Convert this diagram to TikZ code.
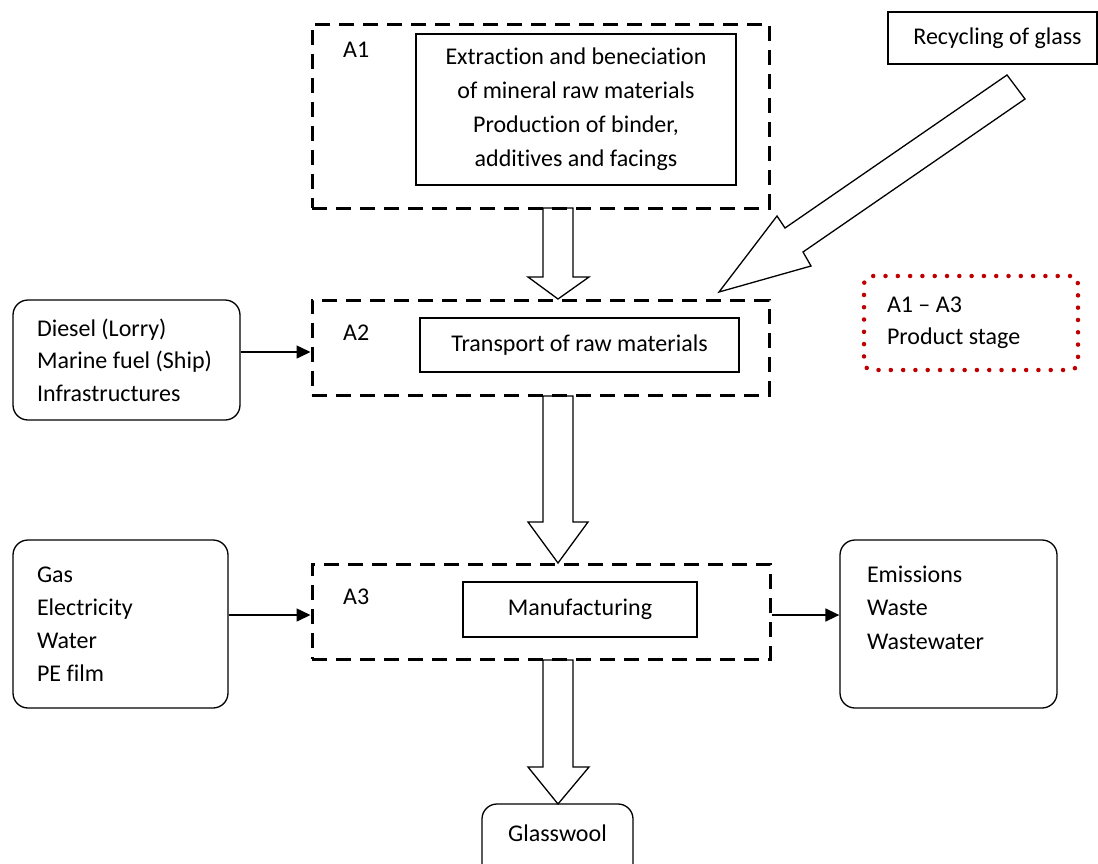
\documentclass[tikz,border=0pt]{standalone}
\usepackage{fontspec}
\setmainfont{Carlito}[Ligatures=NoCommon]
\usetikzlibrary{arrows.meta,calc}
\definecolor{dred}{RGB}{192,0,0}
\begin{document}
\begin{tikzpicture}[x=1pt,y=-1pt,
  every node/.style={font=\fontsize{24}{33}\selectfont},
  dashbox/.style={draw,line width=3pt,dash pattern=on 15pt off 9pt,inner sep=0pt},
  solidbox/.style={draw,line width=1.3pt,inner sep=0pt,align=flush center},
  roundbox/.style={draw,line width=1.3pt,rounded corners=15pt,align=flush left,inner sep=0pt},
  lbl/.style={anchor=west,inner sep=0pt},
  conn/.style={line width=1.5pt,-{Triangle[length=14pt,width=13pt]}},
  blk/.style={draw,line width=1.3pt,fill=white,line join=miter}]
\useasboundingbox (0,0) rectangle (1098,863);
% block arrows
\draw[blk] (543,208) -- (543,277) -- (528,277) -- (558,299) -- (589,277) -- (573,277) -- (573,208) -- cycle;
\draw[blk] (543,396) -- (543,522) -- (528,522) -- (558,563) -- (588,522) -- (573,522) -- (573,396) -- cycle;
\draw[blk] (543,660) -- (543,767) -- (528,767) -- (558,804) -- (589,767) -- (573,767) -- (573,660) -- cycle;
\draw[blk] (1007,75) -- (785,228) -- (777,216) -- (719,292) -- (811,266) -- (803,252) -- (1025,99) -- cycle;
% dashed stage boxes
\node[dashbox,minimum width=457pt,minimum height=184pt] (A1) at (540.5,116) {};
\node[dashbox,minimum width=457pt,minimum height=95pt] (A2) at (540.5,347.5) {};
\node[dashbox,minimum width=458pt,minimum height=95pt] (A3) at (541,611.5) {};
\node[lbl] (A1l) at (343,50) {A1};
\node[lbl] (A2l) at (343,333) {A2};
\node[lbl] (A3l) at (343,597) {A3};
% inner boxes
\node[solidbox,minimum width=320pt,minimum height=151pt,font=\fontsize{24}{34}\selectfont] (A1in) at (576,109.5)
  {Extraction and beneciation\\of mineral raw materials\\Production of binder,\\additives and facings};
\node[solidbox,minimum width=319pt,minimum height=54pt] (A2in) at (579.5,345) {Transport of raw materials};
\node[solidbox,minimum width=234pt,minimum height=55pt] (A3in) at (580,609.5) {Manufacturing};
% side boxes
\node[roundbox,text width=227pt,minimum height=120pt,font=\fontsize{24}{32.5}\selectfont] (diesel) at (126.5,360)
  {\leftskip=24pt Diesel (Lorry)\\Marine fuel (Ship)\\Infrastructures\par};
\node[roundbox,text width=215pt,minimum height=168pt] (gas) at (120.5,624)
  {\leftskip=24pt Gas\\Electricity\\Water\\PE film\par};
\node[roundbox,text width=217pt,minimum height=168pt,font=\fontsize{24}{33.5}\selectfont] (out) at (948.5,624)
  {\leftskip=27pt Emissions\\Waste\\Wastewater\\\mbox{}\par};
\node[draw,line width=1.3pt,minimum width=209pt,minimum height=52pt,inner sep=0pt] (rec) at (992.5,38) {\hspace*{10pt}Recycling of glass};
\node[draw,dred,line width=4.5pt,dash pattern=on 0pt off 12.3pt,line cap=round,rounded corners=8pt,
  text=black,align=flush left,text width=214pt,inner sep=0pt,minimum height=94pt,font=\fontsize{24}{32}\selectfont] (stage) at (971,323)
  {\leftskip=23pt A1 -- A3\\Product stage\par};
\node[roundbox,align=flush center,text width=151pt,minimum height=92pt,font=\fontsize{24}{34}\selectfont] (glass) at (557.5,850) {Glasswool\\\mbox{}};
% connectors
\draw[conn] ([yshift=8pt]diesel.east) -- ([yshift=8pt]diesel.east -| A2.west);
\draw[conn] ([yshift=9pt]gas.east) -- ([yshift=9pt]gas.east -| A3.west);
\draw[conn] ([yshift=9pt]gas.east -| A3.east) -- ([yshift=9pt]gas.east -| out.west);
\end{tikzpicture}
\end{document}
